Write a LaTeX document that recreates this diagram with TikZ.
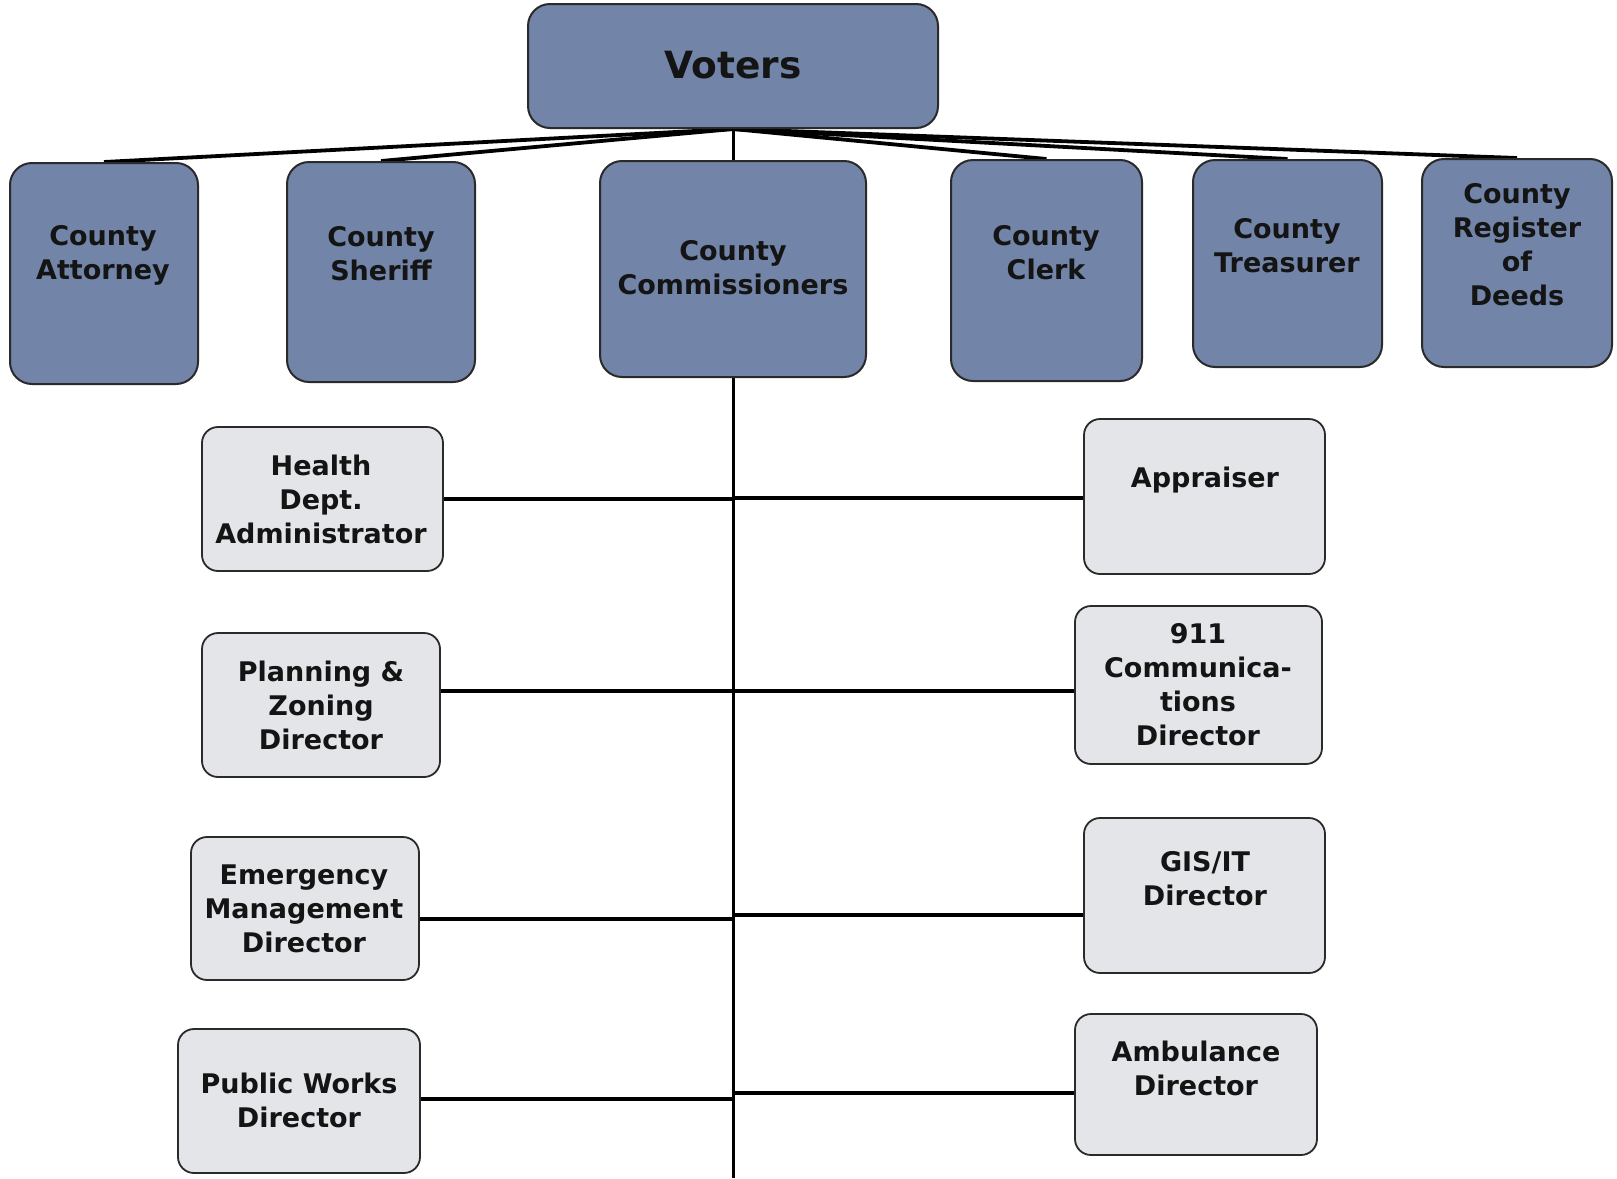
\documentclass[tikz,border=0pt]{standalone}
\usepackage{fontspec}
\setmainfont{DejaVu Sans}
\usetikzlibrary{backgrounds}
\definecolor{darkbox}{HTML}{7285A8}
\definecolor{lightbox}{HTML}{E3E5E9}
\definecolor{edge}{HTML}{2A2A2A}
\definecolor{txt}{HTML}{141414}
\begin{document}
\begin{tikzpicture}[x=1pt,y=-1pt,
  topbox/.style={draw=edge,line width=2pt,fill=darkbox,rounded corners=22pt,inner sep=0pt},
  subbox/.style={draw=edge,line width=1.8pt,fill=lightbox,rounded corners=16pt,inner sep=0pt},
  lbl/.style={text=txt,font=\fontsize{27}{34}\selectfont\bfseries,align=center,inner sep=0pt},
  conn/.style={draw=black,line width=3.8pt}]
\useasboundingbox (0,0) rectangle (1617,1178);
% top boxes
\node[topbox,minimum width=410pt,minimum height=124pt] (voters) at (733,66) {};
\node[topbox,minimum width=188pt,minimum height=221pt] (att) at (104,273.5) {};
\node[topbox,minimum width=188pt,minimum height=220pt] (sher) at (381,272) {};
\node[topbox,minimum width=266pt,minimum height=216pt] (comm) at (733,269) {};
\node[topbox,minimum width=191pt,minimum height=221pt] (clerk) at (1046.5,270.5) {};
\node[topbox,minimum width=189pt,minimum height=207pt] (treas) at (1287.5,263.5) {};
\node[topbox,minimum width=190pt,minimum height=208pt] (reg) at (1517,263) {};
% sub boxes
\node[subbox,minimum width=241pt,minimum height=144pt] (health) at (322.5,499) {};
\node[subbox,minimum width=241pt,minimum height=155pt] (appr) at (1204.5,496.5) {};
\node[subbox,minimum width=238pt,minimum height=144pt] (plan) at (321,705) {};
\node[subbox,minimum width=247pt,minimum height=158pt] (nine) at (1198.5,685) {};
\node[subbox,minimum width=228pt,minimum height=143pt] (emer) at (305,908.5) {};
\node[subbox,minimum width=241pt,minimum height=155pt] (gis) at (1204.5,895.5) {};
\node[subbox,minimum width=242pt,minimum height=144pt] (pw) at (299,1101) {};
\node[subbox,minimum width=242pt,minimum height=141pt] (amb) at (1196,1084.5) {};
% labels
\node[lbl,font=\fontsize{37.5}{40}\selectfont\bfseries] (voters-t) at (733,65) {Voters};
\node[lbl] (att-t) at (103,255) {County\\Attorney};
\node[lbl] (sher-t) at (381,254) {County\\Sheriff};
\node[lbl] (comm-t) at (733,268) {County\\Commissioners};
\node[lbl] (clerk-t) at (1046,253) {County\\Clerk};
\node[lbl] (treas-t) at (1287,246) {County\\Treasurer};
\node[lbl] (reg-t) at (1517,245) {County\\Register\\of\\Deeds};
\node[lbl] (health-t) at (321,499) {Health\\Dept.\\Administrator};
\node[lbl] (appr-t) at (1205,480) {Appraiser};
\node[lbl] (plan-t) at (321,705) {Planning \&\\Zoning\\Director};
\node[lbl] (nine-t) at (1198,685) {911\\Communica-\\tions\\Director};
\node[lbl] (emer-t) at (304,909) {Emergency\\Management\\Director};
\node[lbl] (gis-t) at (1205,879) {GIS/IT\\Director};
\node[lbl] (pw-t) at (299,1100) {Public Works\\Director};
\node[lbl] (amb-t) at (1196,1068) {Ambulance\\Director};
% trunk coordinates
\coordinate (bottom) at (733,1178);
\coordinate (h1) at (733,499);
\coordinate (a1) at (733,498);
\coordinate (h2) at (733,691);
\coordinate (a2) at (733,691);
\coordinate (h3) at (733,919);
\coordinate (a3) at (733,915);
\coordinate (h4) at (733,1099);
\coordinate (a4) at (733,1093);
\begin{pgfonlayer}{background}
\draw[conn,line width=3pt] (voters.south) -- (bottom);
\draw[conn] (voters.south) -- (att.north);
\draw[conn] (voters.south) -- (sher.north);
\draw[conn] (voters.south) -- (clerk.north);
\draw[conn] (voters.south) -- (treas.north);
\draw[conn] (voters.south) -- (reg.north);
\draw[conn] (h1) -- (h1 -| health.east);
\draw[conn] (a1) -- (a1 -| appr.west);
\draw[conn] (h2) -- (h2 -| plan.east);
\draw[conn] (a2) -- (a2 -| nine.west);
\draw[conn] (h3) -- (h3 -| emer.east);
\draw[conn] (a3) -- (a3 -| gis.west);
\draw[conn] (h4) -- (h4 -| pw.east);
\draw[conn] (a4) -- (a4 -| amb.west);
\end{pgfonlayer}
\end{tikzpicture}
\end{document}
